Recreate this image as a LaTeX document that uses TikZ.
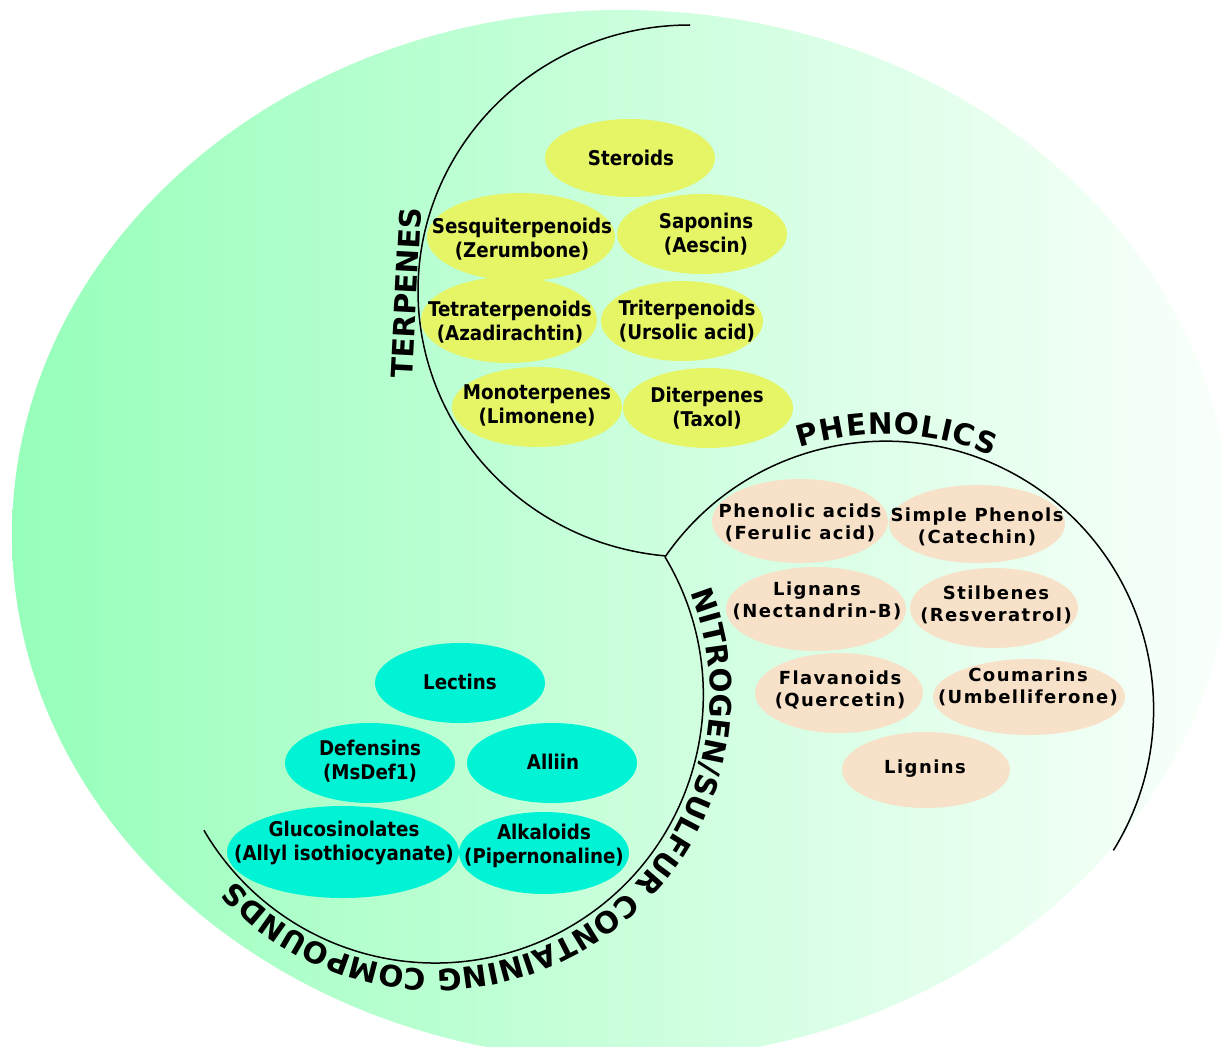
\documentclass[tikz,border=0pt]{standalone}
\usepackage{fontspec}
\setmainfont{DejaVu Sans}
\newfontfamily\phenfont[LetterSpace=8]{DejaVu Sans}
\newfontfamily\condfont{DejaVu Sans Condensed}
\usetikzlibrary{decorations.text}
\definecolor{gLeft}{RGB}{150,255,186}
\definecolor{gMid}{RGB}{202,255,220}
\definecolor{gRight}{RGB}{250,255,251}
\definecolor{terpY}{RGB}{229,245,102}
\definecolor{phenP}{RGB}{247,225,200}
\definecolor{nitC}{RGB}{0,243,212}
\newcommand\blob[9]{%
  \fill[#6] (#2,-#3) ellipse[x radius=#4pt, y radius=#5pt];
  \node[#6lbl] (#1) at (#7,-#8) {#9};}
\newcommand\bigfont{\bfseries\fontsize{29.5}{32}\selectfont}
\begin{document}
\begin{tikzpicture}[x=1pt,y=1pt,
  terp/.style={fill=terpY},
  phen/.style={fill=phenP},
  nitro/.style={fill=nitC},
  baselbl/.style={align=center, inner sep=0pt, text=black},
  terplbl/.style={baselbl, font=\condfont\bfseries\fontsize{20.3}{24}\selectfont},
  nitrolbl/.style={baselbl, font=\condfont\bfseries\fontsize{20.3}{24}\selectfont},
  phenlbl/.style={baselbl, font=\phenfont\bfseries\fontsize{18}{22}\selectfont},
  arcline/.style={line width=1.5pt, draw=black},
  curvelbl/.style={decorate, decoration={text along path, text align=fit to path, text={|\bigfont|#1}}}
  ]
\useasboundingbox (0,0) rectangle (1222,-1046);
\clip (0,0) rectangle (1222,-1046);
\fill[white] (0,0) rectangle (1222,-1046);
\shade[left color=gLeft, right color=gRight, middle color=gMid] (622,-535) ellipse[x radius=610pt, y radius=525pt];

% terpenes
\blob{ster}{630}{158}{85}{39}{terp}{631}{158}{Steroids}
\blob{sesq}{521}{237}{94}{44}{terp}{522}{239}{Sesquiterpenoids\\(Zerumbone)}
\blob{sapo}{702}{234}{85}{40}{terp}{706}{234}{Saponins\\(Aescin)}
\blob{tetra}{509}{320}{88}{43}{terp}{510}{322}{Tetraterpenoids\\(Azadirachtin)}
\blob{tri}{682}{321}{81}{40}{terp}{687}{321}{Triterpenoids\\(Ursolic acid)}
\blob{mono}{537}{407}{85}{40}{terp}{537}{405}{Monoterpenes\\(Limonene)}
\blob{dit}{708}{408}{85}{40}{terp}{707}{408}{Diterpenes\\(Taxol)}

% phenolics
\blob{phac}{800}{521}{88}{42}{phen}{800}{523}{Phenolic acids\\(Ferulic acid)}
\blob{simp}{977}{524}{88}{39}{phen}{977}{527}{Simple Phenols\\(Catechin)}
\blob{lign}{816}{609}{90}{42}{phen}{817}{601}{Lignans\\(Nectandrin-B)}
\blob{stil}{994}{608}{84}{40}{phen}{996}{605}{Stilbenes\\(Resveratrol)}
\blob{flav}{839}{693}{84}{40}{phen}{840}{690}{Flavanoids\\(Quercetin)}
\blob{coum}{1029}{697}{96}{38}{phen}{1028}{687}{Coumarins\\(Umbelliferone)}
\blob{lignin}{926}{770}{84}{38}{phen}{925}{769}{Lignins}

% nitrogen / sulfur
\blob{lect}{460}{683}{85}{40}{nitro}{460}{682}{Lectins}
\blob{def}{370}{763}{85}{40}{nitro}{370}{761}{Defensins\\(MsDef1)}
\blob{alli}{552}{763}{85}{40}{nitro}{553}{762}{Alliin}
\blob{gluc}{343}{852}{116}{46}{nitro}{344}{843}{Glucosinolates\\(Allyl isothiocyanate)}
\blob{alk}{544}{853}{85}{41}{nitro}{544}{846}{Alkaloids\\(Pipernonaline)}

% dividing arcs
\coordinate (tc) at (690,-291);
\coordinate (pc) at (885,-709);
\coordinate (nc) at (436,-695);
\coordinate (jn) at (665,-557);
\draw[arcline] ([shift={(90:266pt)}]tc) arc[start angle=90, end angle=264.7, x radius=272pt, y radius=266pt];
\draw[arcline] (jn) arc[start angle=145.4, end angle=-31.8, radius=268pt];
\draw[arcline] (jn) arc[start angle=31, end angle=-149.7, radius=268pt];

% group labels
\node[rotate=87, font=\bigfont, inner sep=0pt] (terpenes) at (406,-293) {TERPENES};
\path[curvelbl=PHENOLICS] ([shift={(108:275pt)}]pc) arc[start angle=108, end angle=67, radius=275pt];
\path[curvelbl=NITROGEN/SULFUR CONTAINING COMPOUNDS] ([shift={(22:274pt)}]nc) arc[start angle=22, end angle=-137, radius=274pt];
\end{tikzpicture}
\end{document}
